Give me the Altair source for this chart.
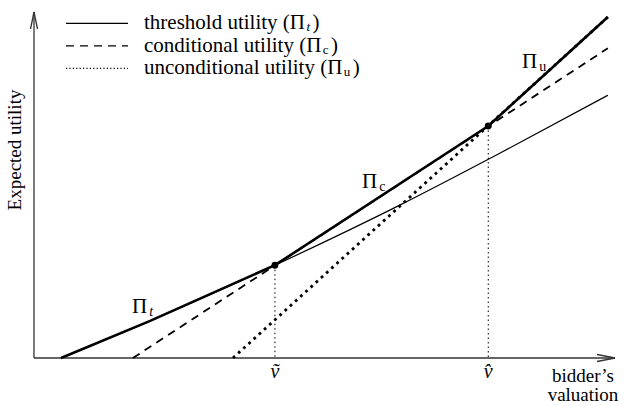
import altair as alt
import pandas as pd

# Threshold utility Pi_t (slightly convex in the valuation)
thr_v = [0.47, 2.02, 4.19, 6.37, 8.10, 9.98]
thr_u = [0.00, 0.64, 1.60, 2.64, 3.53, 4.53]
# Conditional utility Pi_c
cond_v = [1.72, 9.98]
cond_u = [0.00, 5.34]
# Unconditional utility Pi_u
unc_v = [3.46, 9.98]
unc_u = [0.00, 5.88]
# Switching valuations (v-tilde, v-hat) and the utility there
switch_v = [4.19, 7.90]
switch_u = [1.60, 4.00]
switch_lbl = ["\u1e7d", "v\u0302"]

# Legend entries: text before the subscript, subscript, italic subscript?
legend_txt = ["threshold utility (\u03a0", "conditional utility (\u03a0", "unconditional utility (\u03a0"]
legend_sub = ["t", "c", "u"]
legend_sub_italic = [True, False, False]
legend_dash = [[1, 0], [8, 6], [1.2, 2.2]]

FONT = "Liberation Serif"
W, H = 575, 348
LEG_SIZE = 21

# Times / Liberation Serif advance widths (per 1000 em) for placing subscripts
ADV = {" ": 250, "(": 333, ")": 333, "a": 444, "b": 500, "c": 444, "d": 500,
       "e": 444, "h": 500, "i": 278, "l": 278, "n": 500, "o": 500, "r": 333,
       "s": 389, "t": 278, "u": 500, "y": 500, "\u03a0": 722}


def text_width(s, size):
    return sum(ADV.get(ch, 500) for ch in s) * size / 1000.0


xs = alt.Scale(domain=[0, 10], nice=False, zero=False)
ys = alt.Scale(domain=[0, 6], nice=False, zero=False)
one = pd.DataFrame({"k": [0]})


def curve(v, u, width, dash=None, interp="linear"):
    kw = dict(color="black", strokeWidth=width, interpolate=interp, clip=False)
    if dash:
        kw["strokeDash"] = dash
    df = pd.DataFrame({"v": v, "u": u})
    return alt.Chart(df).mark_line(**kw).encode(
        x=alt.X("v:Q", scale=xs, axis=None),
        y=alt.Y("u:Q", scale=ys, axis=None),
        order="v:Q",
    )


def seg(x1, y1, x2, y2, width=1.3, color="#333", dash=None):
    kw = dict(color=color, strokeWidth=width)
    if dash:
        kw["strokeDash"] = dash
    return alt.Chart(one).mark_rule(**kw).encode(
        x=alt.value(x1), y=alt.value(y1), x2=alt.value(x2), y2=alt.value(y2)
    )


def txt(s, x, y, size=20, italic=False, align="left", angle=0, baseline="alphabetic"):
    kw = dict(font=FONT, fontSize=size, color="black", align=align, baseline=baseline)
    if italic:
        kw["fontStyle"] = "italic"
    if angle:
        kw["angle"] = angle
    return alt.Chart(one).mark_text(**kw).encode(
        x=alt.value(x), y=alt.value(y), text=alt.value(s)
    )


def pi_label(x, y, sub, italic_sub, size=21, sub_size=14):
    return [
        txt("\u03a0", x, y, size=size),
        txt(sub, x + text_width("\u03a0", size) + 2, y + 3, size=sub_size, italic=italic_sub),
    ]


layers = []

# axes with open arrowheads
layers += [
    seg(0, H, 581, H, width=1.6),
    seg(581, H, 563, H - 3.5, width=1.3),
    seg(581, H, 563, H + 3.5, width=1.3),
    seg(0, H, 0, 2, width=1.3),
    seg(0, 2, -3.5, 19, width=1.3),
    seg(0, 2, 3.5, 19, width=1.3),
]

# drop lines from the switching points to the valuation axis
drop_df = pd.DataFrame({"v": switch_v, "u": switch_u, "lbl": switch_lbl})
layers.append(
    alt.Chart(drop_df).mark_rule(color="black", strokeWidth=1, strokeDash=[1.5, 3]).encode(
        x=alt.X("v:Q", scale=xs, axis=None),
        y=alt.Y("u:Q", scale=ys, axis=None),
        y2=alt.datum(0),
    )
)

# the three utility curves
layers.append(curve(thr_v, thr_u, 1.2, interp="monotone"))
layers.append(curve(cond_v, cond_u, 1.8, dash=[8, 6]))
layers.append(curve(unc_v, unc_u, 2.8, dash=[2.8, 4.2]))

# upper envelope (bold): Pi_t up to v-tilde, Pi_c up to v-hat, then Pi_u
env_v, env_u = [], []
for v, u in zip(thr_v, thr_u):
    if v <= switch_v[0]:
        env_v.append(v)
        env_u.append(u)
env_v += [switch_v[1], unc_v[-1]]
env_u += [switch_u[1], unc_u[-1]]
layers.append(curve(env_v, env_u, 2.6))

# switching points
layers.append(
    alt.Chart(drop_df).mark_circle(color="black", size=48, opacity=1).encode(
        x=alt.X("v:Q", scale=xs, axis=None),
        y=alt.Y("u:Q", scale=ys, axis=None),
    )
)
# their valuation labels
layers.append(
    alt.Chart(drop_df).mark_text(font=FONT, fontSize=20, fontStyle="italic", baseline="alphabetic").encode(
        x=alt.X("v:Q", scale=xs, axis=None),
        y=alt.value(H + 20),
        text="lbl:N",
    )
)

# curve labels
layers += pi_label(98, 303, "t", True)
layers += pi_label(328, 178, "c", False)
layers += pi_label(488, 58, "u", False)

# axis titles
layers.append(txt("Expected utility", -19, 140, size=19, align="center", angle=270, baseline="middle"))
layers.append(txt("bidder\u2019s", 549, H + 24, size=19, align="center"))
layers.append(txt("valuation", 549, H + 43, size=19, align="center"))

# legend
for i, (t, sub, it, dash) in enumerate(zip(legend_txt, legend_sub, legend_sub_italic, legend_dash)):
    ly = 13.3 + 22.5 * i
    layers.append(seg(32, ly, 94, ly, width=1.3, color="black", dash=dash))
    x0 = 110
    by = ly + 6
    layers.append(txt(t, x0, by, size=LEG_SIZE))
    xs_ = x0 + text_width(t, LEG_SIZE) + 1.5
    layers.append(txt(sub, xs_, by + 2, size=13, italic=it))
    layers.append(txt(")", xs_ + text_width(sub, 13) + 2.5, by, size=LEG_SIZE))

chart = alt.layer(*layers).properties(
    width=W,
    height=H,
    padding={"left": 34, "top": 10, "right": 16, "bottom": 48},
    autosize=alt.AutoSizeParams(type="none"),
).configure_view(stroke=None)

chart.save("out.html", embed_options={"renderer": "svg", "actions": False})
